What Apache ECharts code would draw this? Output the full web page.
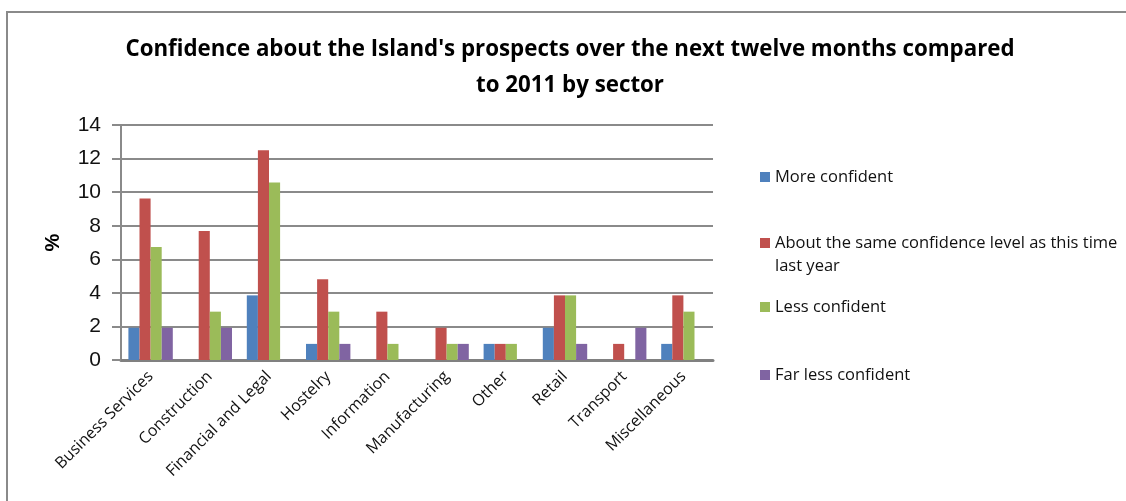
<!DOCTYPE html>
<html>
<head>
<meta charset="utf-8">
<script src="https://cdn.jsdelivr.net/npm/echarts@6/dist/echarts.min.js"></script>
<style>
  html, body { margin: 0; padding: 0; background: #fff; }
  #chart { width: 1126px; height: 501px; }
</style>
</head>
<body>
<div id="chart"></div>
<script>
// Sectors along the category axis
const sectors = ['Business Services', 'Construction', 'Financial and Legal', 'Hostelry',
  'Information', 'Manufacturing', 'Other', 'Retail', 'Transport', 'Miscellaneous'];

// Share of respondents (%) per sector and confidence level
const moreConfident   = [1.92, 0,    3.85, 0.96, 0,    0,    0.96, 1.92, 0,    0.96];
const aboutTheSame    = [9.62, 7.69, 12.5, 4.81, 2.88, 1.92, 0.96, 3.85, 0.96, 3.85];
const lessConfident   = [6.73, 2.88, 10.58, 2.88, 0.96, 0.96, 0.96, 3.85, 0,   2.88];
const farLessConfident= [1.92, 1.92, 0,    0.96, 0,    0.96, 0,    0.96, 1.92, 0];

const seriesNames = ['More confident', 'About the same confidence level as this time last year',
  'Less confident', 'Far less confident'];
const yTicks = [0, 2, 4, 6, 8, 10, 12, 14];

const colors = ['#4F81BD', '#C0504D', '#9BBB59', '#8064A2'];
const values = [moreConfident, aboutTheSame, lessConfident, farLessConfident];

const legendFont = { fontFamily: 'Open Sans', fontSize: 16.5, color: '#111', lineHeight: 20 };

const chart = echarts.init(document.getElementById('chart'), null, { renderer: 'canvas' });

// One legend block per series so each entry sits at its own height
const legendTops = [167, 233, 297, 365];
const legends = seriesNames.map((name, i) => ({
  data: [name],
  left: 760,
  top: legendTops[i],
  padding: 0,
  itemWidth: 10,
  itemHeight: 10,
  itemGap: 5,
  icon: 'rect',
  selectedMode: false,
  // the long entry wraps; its second line is drawn below as a graphic text
  formatter: n => n === seriesNames[1] ? 'About the same confidence level as this time' : n,
  textStyle: legendFont
}));

chart.setOption({
  animation: false,
  backgroundColor: '#fff',
  color: colors,
  title: {
    text: "Confidence about the Island's prospects over the next twelve months compared\nto 2011 by sector",
    left: 565,
    top: 27,
    textAlign: 'center',
    textStyle: { fontFamily: 'Open Sans', fontWeight: 'bold', fontSize: 22.3, lineHeight: 36, color: '#000' }
  },
  legend: legends,
  grid: { left: 121, right: 413, top: 125, bottom: 141, containLabel: false },
  xAxis: {
    type: 'category',
    data: sectors,
    axisLine: { lineStyle: { color: '#808080', width: 3 } },
    axisTick: { show: false },
    axisLabel: {
      interval: 0, rotate: 45, margin: 14,
      fontFamily: 'Open Sans', fontSize: 16, color: '#111'
    }
  },
  yAxis: {
    type: 'value',
    min: 0, max: 14, interval: 2,
    name: '%',
    nameLocation: 'middle',
    nameGap: 58,
    nameRotate: 90,
    nameTextStyle: { fontFamily: 'Liberation Sans', fontWeight: 'bold', fontSize: 20, color: '#000' },
    axisLine: { show: true, lineStyle: { color: '#8a8a8a', width: 2 } },
    axisTick: { show: true, inside: false, length: 9, lineStyle: { color: '#8a8a8a', width: 2 } },
    splitLine: { lineStyle: { color: '#8a8a8a', width: 2 } },
    axisLabel: {
      margin: 20, fontFamily: 'Liberation Sans', fontSize: 21, color: '#111',
      formatter: v => yTicks.includes(v) ? String(v) : ''
    }
  },
  series: values.map((vals, i) => ({
    name: seriesNames[i],
    type: 'bar',
    data: vals,
    barGap: '0%',
    barCategoryGap: '25%',
    itemStyle: { color: colors[i] }
  })),
  graphic: [{
    type: 'rect',
    shape: { x: 7, y: 12, width: 1200, height: 600 },
    style: { fill: null, stroke: '#8a8a8a', lineWidth: 2 },
    z: -1,
    silent: true
  }, {
    type: 'text',
    left: 775,
    top: 258,
    style: { text: 'last year', fill: '#111', font: '16.5px "Open Sans"' },
    silent: true
  }]
});
</script>
</body>
</html>
